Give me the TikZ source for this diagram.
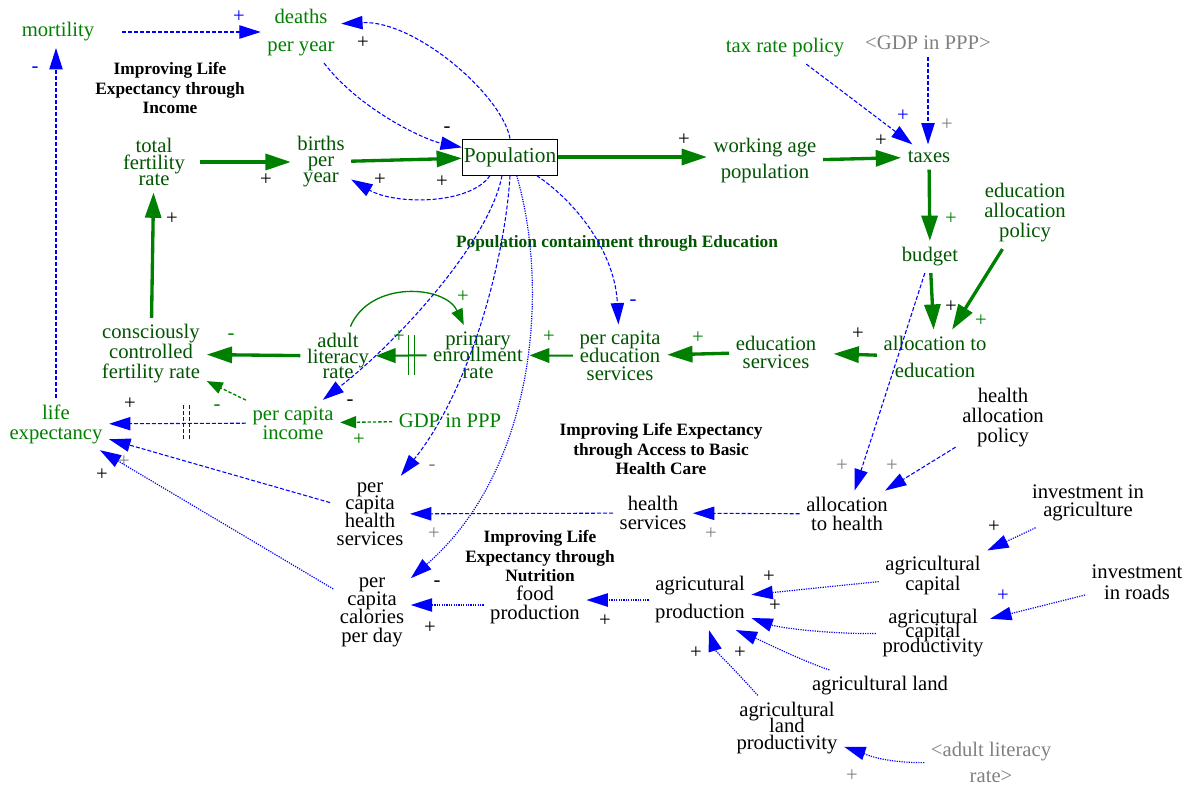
\documentclass[tikz,border=0pt]{standalone}
\usepackage{fontspec}
\setmainfont{Liberation Serif}
\usepackage{tikz}
\usetikzlibrary{arrows.meta}

\definecolor{dkgreen}{RGB}{0,85,0}
\definecolor{ltgreen}{RGB}{0,128,0}
\definecolor{linkblue}{RGB}{0,0,255}
\definecolor{shadow}{RGB}{128,128,128}

\newcommand{\tightlines}{\lineskiplimit-20pt\relax}

\tikzset{
  var/.style={align=center, inner sep=2pt, outer sep=3pt,
    font={\fontsize{15.5}{#1}\selectfont\tightlines}},
  var/.default=15pt,
  vdk/.style={var=#1, text=dkgreen}, vdk/.default=15pt,
  vlt/.style={var=#1, text=ltgreen}, vlt/.default=15pt,
  vgr/.style={var=#1, text=shadow}, vgr/.default=15pt,
  vbk/.style={var=#1, text=black}, vbk/.default=15pt,
  stockbox/.style={draw=black, line width=0.75pt, text=dkgreen, inner sep=1pt,
    minimum width=71.25pt, minimum height=27pt, font={\fontsize{16}{16}\selectfont}},
  looptitle/.style={align=center, inner sep=1pt,
    font={\fontsize{13}{14.6}\selectfont\bfseries\tightlines}},
  sign/.style={inner sep=0pt, font={\fontsize{15.5}{15.5}\selectfont}},
  flow/.style={draw=ltgreen, line width=2.5pt, -{Triangle[length=19pt,width=12pt]}},
  flowthin/.style={draw=ltgreen, line width=1.5pt, -{Triangle[length=15pt,width=11pt]}},
  glink/.style={draw=ltgreen, line width=1pt, -{Triangle[length=12pt,width=9pt]}},
  gdash/.style={glink, dash pattern=on 2.5pt off 1.5pt},
  bdash/.style={draw=linkblue, line width=0.8pt, dash pattern=on 3pt off 1.5pt,
    -{Triangle[length=16pt,width=10pt]}},
  bdot/.style={draw=linkblue, line width=0.9pt, dash pattern=on 0.9pt off 0.9pt,
    -{Triangle[length=16pt,width=10pt]}},
  gdelay/.style={draw=ltgreen, line width=1pt},
  bdelay/.style={draw=linkblue, line width=0.8pt, dash pattern=on 3pt off 1.5pt}
}

\begin{document}
\begin{tikzpicture}[x=0.75pt, y=-0.75pt]
\useasboundingbox (0,0) rectangle (1191,786);

\node[vlt] (mort) at (58,32) {mortility};
\node[vlt=21pt] (deaths) at (301,33) {deaths\\per year};
\node[looptitle] (tincome) at (170,88) {Improving Life\\Expectancy through\\Income};
\node[vdk=12.4pt] (tfr) at (154,162) {total\\fertility\\rate};
\node[vdk=12pt] (births) at (321,162) {births\\per\\year};
\node[stockbox] (pop) at (510,157) {Population};
\node[vdk=19.5pt] (wap) at (765,161) {working age\\population};
\node[vdk] (taxes) at (929,157) {taxes};
\node[vlt] (trp) at (785,48) {tax rate policy};
\node[vgr] (gdpt) at (928,43) {<GDP in PPP>};
\node[vdk] (budget) at (930,257) {budget};
\node[vdk=15pt] (eap) at (1025,213) {education\\allocation\\policy};
\node[vdk=20pt] (ate) at (935,357) {allocation to\\education};
\node[vdk=13.5pt] (edus) at (776,352) {education\\services};
\node[vdk=13.5pt] (pces) at (620,356) {per capita\\education\\services};
\node[looptitle, text=dkgreen] (tpop) at (617,243) {Population containment through Education};
\node[vdk=12.4pt] (per) at (478,355) {primary\\enrollment\\rate};
\node[vdk=11.6pt] (alr) at (338,356) {adult\\literacy\\rate};
\node[vdk=15pt] (ccfr) at (151,354) {consciously\\controlled\\fertility rate};
\node[vlt=14.3pt] (pci) at (293,423) {per capita\\income};
\node[vlt] (gdp) at (450,421) {GDP in PPP};
\node[vlt=15pt] (le) at (56,424) {life\\expectancy};
\node[vbk=13.3pt] (pchs) at (370,514) {per\\capita\\health\\services};
\node[vbk=13.7pt] (pccd) at (372,612) {per\\capita\\calories\\per day};
\node[looptitle] (thealth) at (661,449) {Improving Life Expectancy\\through Access to Basic\\Health Care};
\node[vbk=14.3pt] (hs) at (653,513) {health\\services};
\node[vbk=14.3pt] (ath) at (847,514) {allocation\\to health};
\node[vbk=15pt] (hap) at (1003,418) {health\\allocation\\policy};
\node[looptitle] (tnut) at (540,556) {Improving Life\\Expectancy through\\Nutrition};
\node[vbk=14.3pt] (fp) at (535,605) {food\\production};
\node[vbk=21pt] (ap) at (700,600) {agricutural\\production};
\node[vbk=15pt] (ac) at (933,576) {agricultural\\capital};
\node[vbk=10.9pt] (acp) at (933,633) {agricutural\\capital\\productivity};
\node[vbk] (al) at (880,686) {agricultural land};
\node[vbk=12.4pt] (alp) at (787,728) {agricultural\\land\\productivity};
\node[vgr=19.5pt] (alrs) at (991,762) {<adult literacy\\rate>};
\node[vbk=13.5pt] (ia) at (1088,503) {investment in\\agriculture};
\node[vbk=15.75pt] (ir) at (1137,582) {investment\\in roads};

\draw[bdash, shorten <=16pt] (mort) -- (mort -| deaths.west);
\draw[bdash] (pop.north) .. controls (502,95) and (415,20) .. ([yshift=7pt]deaths.east);
\draw[bdash] (deaths) .. controls (360,110) and (425,140) .. (pop);
\draw[bdash] ([xshift=-15pt]pop.south) .. controls (470,205) and (395,205) .. (births);
\draw[flow, shorten <=6pt] (tfr) -- (births);
\draw[flow] (births) -- (pop);
\draw[flow] (pop) -- (pop -| wap.west);
\draw[flow] (wap) -- (taxes);
\draw[bdash] (trp) -- (taxes);
\draw[bdash] (gdpt) -- (gdpt |- taxes.north);
\draw[flow] (taxes) -- (budget);
\draw[flow] (budget) -- (ate);
\draw[flow] (eap) -- (ate);
\draw[flow, shorten >=8pt] (ate) -- (edus);
\draw[flow] (edus) -- (pces);
\draw[flowthin] (pces) -- (per);
\draw[flowthin] (per) -- coordinate[pos=0.3] (dlit) (alr);
\draw[gdelay] ([xshift=-2.2pt]dlit) +(0,-20) -- +(0,20)
  ([xshift=2.2pt]dlit) +(0,-20) -- +(0,20);
\draw[flow] (alr) -- (ccfr);
\draw[flow] (ccfr) -- (tfr);
\draw[glink] (alr) .. controls (370,280) and (445,285) .. (per);
\draw[bdash] ([xshift=-6pt]pop.south) .. controls (490,240) and (400,340) .. (pci);
\draw[bdash] (pop.south) .. controls (505,260) and (470,390) .. (pchs);
\draw[bdot] ([xshift=5pt]pop.south) .. controls (550,290) and (535,470) .. (pccd);
\draw[bdash] ([xshift=20pt]pop.south) .. controls (580,205) and (615,255) .. (pces);
\draw[gdash] (pci) -- (ccfr);
\draw[gdash] (gdp) -- (pci);
\draw[bdash] (pci) -- coordinate[pos=0.434] (dinc) (le);
\draw[bdelay] ([xshift=-2.2pt]dinc) +(0,-18) -- +(0,18)
  ([xshift=2.2pt]dinc) +(0,-18) -- +(0,18);
\draw[bdash] (pchs) -- (le);
\draw[bdot] (pccd) -- (le);
\draw[bdash] (le) -- (le |- mort.south);
\draw[bdash] (budget) -- (ath);
\draw[bdash] (hap) -- (ath);
\draw[bdash] (ath) -- (hs);
\draw[bdash] (hs) -- (pchs);
\draw[bdot] (fp) -- (fp -| pccd.east);
\draw[bdot] (ap) -- (ap -| fp.east);
\draw[bdot] (ac) -- (ap);
\draw[bdot] (acp) .. controls (830,634) and (780,628) .. (ap);
\draw[bdot] ([xshift=-38pt]al.north) .. controls (800,660) and (760,640) .. (ap.-40);
\draw[bdot] (alp) .. controls (735,670) and (715,650) .. (ap);
\draw[bdot] (alrs) .. controls (880,763) and (860,752) .. (alp);
\draw[bdot] (ia) -- (ac);
\draw[bdot] (ir) -- (acp);

\node[sign, text=linkblue] (pol1) at (239,17) {+};
\node[sign] (pol2) at (363,43) {+};
\node[sign] (pol3) at (447,130) {-};
\node[sign] (pol4) at (266,180) {+};
\node[sign] (pol5) at (380,180) {+};
\node[sign] (pol6) at (442,182) {+};
\node[sign] (pol7) at (172,219) {+};
\node[sign, text=linkblue] (pol8) at (35,70) {-};
\node[sign] (pol9) at (684,140) {+};
\node[sign] (pol10) at (881,141) {+};
\node[sign, text=linkblue] (pol11) at (903,116) {+};
\node[sign, text=shadow] (pol12) at (947,125) {+};
\node[sign, text=ltgreen] (pol13) at (951,219) {+};
\node[sign] (pol14) at (951,307) {+};
\node[sign, text=ltgreen] (pol15) at (981,321) {+};
\node[sign] (pol16) at (858,334) {+};
\node[sign, text=ltgreen] (pol17) at (698,338) {+};
\node[sign, text=linkblue] (pol18) at (633,303) {-};
\node[sign, text=ltgreen] (pol19) at (549,337) {+};
\node[sign, text=ltgreen] (pol20) at (399,337) {+};
\node[sign, text=ltgreen] (pol21) at (463,297) {+};
\node[sign, text=ltgreen] (pol22) at (231,337) {-};
\node[sign] (pol23) at (350,403) {-};
\node[sign, text=ltgreen] (pol24) at (359,440) {+};
\node[sign, text=ltgreen] (pol25) at (217,408) {-};
\node[sign] (pol26) at (130,404) {+};
\node[sign, text=shadow] (pol27) at (124,462) {+};
\node[sign] (pol28) at (102,475) {+};
\node[sign, text=shadow] (pol29) at (432,468) {-};
\node[sign, text=shadow] (pol30) at (434,534) {+};
\node[sign] (pol31) at (437,584) {-};
\node[sign] (pol32) at (430,628) {+};
\node[sign] (pol33) at (605,621) {+};
\node[sign, text=shadow] (pol34) at (711,534) {+};
\node[sign, text=shadow] (pol35) at (842,466) {+};
\node[sign, text=shadow] (pol36) at (892,466) {+};
\node[sign] (pol37) at (994,527) {+};
\node[sign, text=linkblue] (pol38) at (1003,596) {+};
\node[sign] (pol39) at (769,577) {+};
\node[sign] (pol40) at (775,606) {+};
\node[sign] (pol41) at (740,653) {+};
\node[sign] (pol42) at (696,653) {+};
\node[sign, text=shadow] (pol43) at (852,776) {+};
\end{tikzpicture}
\end{document}
